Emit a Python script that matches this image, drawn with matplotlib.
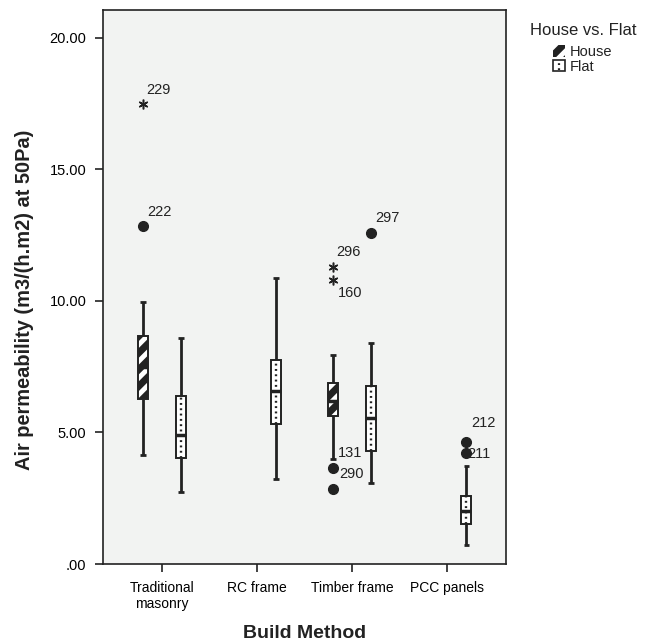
import matplotlib
matplotlib.use("Agg")
import matplotlib.pyplot as plt
from matplotlib.patches import Rectangle, Patch
from matplotlib.lines import Line2D
from matplotlib.legend_handler import HandlerBase

plt.rcParams["font.family"] = ["Liberation Sans", "DejaVu Sans"]

# categories on the x axis
categories = ["Traditional\nmasonry", "RC frame", "Timber frame", "PCC panels"]
ytick_values = [0, 5, 10, 15, 20]
ytick_labels = [".00", "5.00", "10.00", "15.00", "20.00"]

# box statistics, House
house_cat = [0, 2]
house_whislo = [4.16, 3.98]
house_q1 = [6.27, 5.63]
house_med = [7.50, 6.20]
house_q3 = [8.67, 6.88]
house_whishi = [9.96, 7.96]

# box statistics, Flat
flat_cat = [0, 1, 2, 3]
flat_whislo = [2.73, 3.22, 3.09, 0.71]
flat_q1 = [4.03, 5.33, 4.28, 1.52]
flat_med = [4.91, 6.59, 5.55, 2.02]
flat_q3 = [6.39, 7.75, 6.78, 2.59]
flat_whishi = [8.59, 10.89, 8.42, 3.73]

# outliers (circles) and extremes (stars)
outlier_cat = [0, 2, 2, 2, 3, 3]
outlier_group = ["House", "House", "House", "Flat", "Flat", "Flat"]
outlier_value = [12.83, 3.65, 2.84, 12.57, 4.63, 4.21]
outlier_label = ["222", "131", "290", "297", "212", "211"]

extreme_cat = [0, 2, 2]
extreme_group = ["House", "House", "House"]
extreme_value = [17.47, 11.30, 10.80]
extreme_label = ["229", "296", "160"]

# label offsets in pixels (style only)
outlier_offset = [(5, 14), (5, 15), (6, 15), (4, 15), (5, 19), (1, -1)]
extreme_offset = [(4, 14), (3, 15), (5, -13)]

OFFSET = {"House": -0.2, "Flat": 0.2}
BOX_W = 0.105
CAP_W = 0.06
DARK = "#222222"
FLAT_DASH = (0, (0.8, 1.45))

plt.rcParams["hatch.linewidth"] = 3.5

fig = plt.figure(figsize=(6.54, 6.44), dpi=100)
ax = fig.add_axes([0.1575, 0.1242, 0.6163, 0.8603])
ax.set_facecolor("#f2f3f2")


def draw_box(x, lo, q1, med, q3, hi, kind):
    ax.vlines(x, lo, q1, color=DARK, linewidth=2, zorder=2)
    ax.vlines(x, q3, hi, color=DARK, linewidth=2, zorder=2)
    ax.hlines([lo, hi], x - CAP_W / 2, x + CAP_W / 2, color=DARK, linewidth=2, zorder=2)
    if kind == "House":
        ax.add_patch(Rectangle((x - BOX_W / 2, q1), BOX_W, q3 - q1,
                               facecolor=DARK, edgecolor="none", zorder=3))
        ax.add_patch(Rectangle((x - BOX_W / 2, q1), BOX_W, q3 - q1,
                               facecolor="none", edgecolor="white", hatch="//",
                               linewidth=0, zorder=4))
    else:
        ax.add_patch(Rectangle((x - BOX_W / 2, q1), BOX_W, q3 - q1,
                               facecolor="white", edgecolor="none", zorder=3))
        ax.vlines(x, q1, q3, color=DARK, linewidth=1.7,
                  linestyles=FLAT_DASH, zorder=4)
    ax.hlines(med, x - BOX_W / 2, x + BOX_W / 2, color=DARK, linewidth=2.5, zorder=5)
    ax.add_patch(Rectangle((x - BOX_W / 2, q1), BOX_W, q3 - q1,
                           facecolor="none", edgecolor=DARK, linewidth=1.4, zorder=6))


class FlatHandler(HandlerBase):
    def create_artists(self, legend, orig_handle, xdescent, ydescent,
                       width, height, fontsize, trans):
        box = Rectangle((-xdescent, -ydescent), width, height, facecolor="white",
                        edgecolor=DARK, linewidth=1.2, transform=trans)
        dash = Line2D([-xdescent + width / 2] * 2,
                      [-ydescent + 1, -ydescent + height - 1], color=DARK,
                      linewidth=1.6, linestyle=FLAT_DASH, transform=trans)
        return [box, dash]


for i, c in enumerate(house_cat):
    draw_box(c + OFFSET["House"], house_whislo[i], house_q1[i], house_med[i],
             house_q3[i], house_whishi[i], "House")
for i, c in enumerate(flat_cat):
    draw_box(c + OFFSET["Flat"], flat_whislo[i], flat_q1[i], flat_med[i],
             flat_q3[i], flat_whishi[i], "Flat")

for c, g, v, lab, off in zip(outlier_cat, outlier_group, outlier_value,
                             outlier_label, outlier_offset):
    x = c + OFFSET[g]
    ax.plot(x, v, "o", color=DARK, markersize=7, zorder=7)
    ax.annotate(lab, (x, v), xytext=(off[0], off[1]), textcoords="offset pixels",
                ha="left", va="center", fontsize=10.5, color=DARK)

for c, g, v, lab, off in zip(extreme_cat, extreme_group, extreme_value,
                             extreme_label, extreme_offset):
    x = c + OFFSET[g]
    ax.plot(x, v, marker=(6, 2, 0), color=DARK, markersize=7,
            markeredgewidth=1.1, linestyle="none", zorder=7)
    ax.annotate(lab, (x, v), xytext=(off[0], off[1]), textcoords="offset pixels",
                ha="left", va="center", fontsize=10.5, color=DARK)

ax.set_xlim(-0.617, 3.617)
ax.set_ylim(0, 21.06)
ax.set_xticks(range(len(categories)), categories, fontsize=10)
ax.set_yticks(ytick_values, ytick_labels, fontsize=10.5)
ax.tick_params(axis="both", direction="out", length=6, width=1.2, color=DARK, pad=6)
for s in ax.spines.values():
    s.set_color(DARK)
    s.set_linewidth(1.2)

ax.set_ylabel("Air permeability (m3/(h.m2) at 50Pa)", fontsize=14.4,
              fontweight="bold", color=DARK)
ax.yaxis.set_label_coords(-0.171, 0.4765)
ax.set_xlabel("Build Method", fontsize=14, fontweight="bold", color=DARK,
              labelpad=10)

fig.text(0.81, 0.953, "House vs. Flat", fontsize=12, color=DARK,
         ha="left", va="center")
handles = [
    Patch(facecolor=DARK, edgecolor="white", hatch="//", linewidth=0),
    Patch(facecolor="white", edgecolor=DARK),
]
leg = fig.legend(handles, ["House", "Flat"], loc="upper left",
                 bbox_to_anchor=(0.846, 0.93), frameon=False,
                 fontsize=10.5, handlelength=0.8, handleheight=0.8,
                 handletextpad=0.3, labelspacing=0.05, borderpad=0,
                 borderaxespad=0, handler_map={handles[1]: FlatHandler()})
for t in leg.get_texts():
    t.set_color(DARK)

fig.savefig("out.png", dpi=100)
